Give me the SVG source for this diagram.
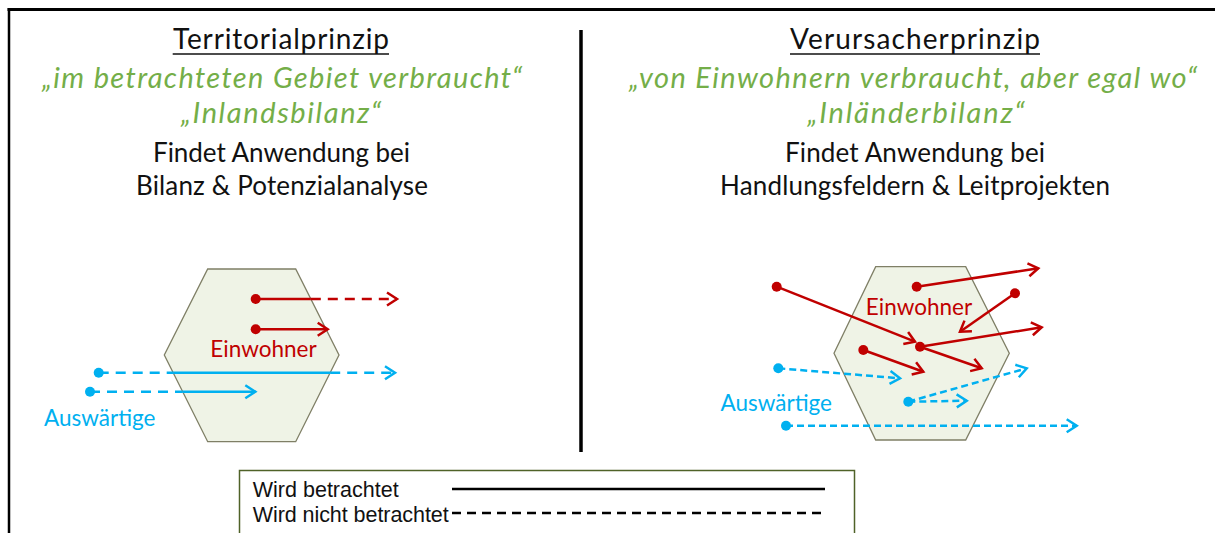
<svg xmlns="http://www.w3.org/2000/svg" width="1215" height="533" viewBox="0 0 1215 533">
<style>
.t{font-family:Lato,"Liberation Sans",sans-serif;font-size:26px;fill:#111;text-anchor:middle}
.h{font-family:Lato,"Liberation Sans",sans-serif;font-size:28px;fill:#111;text-anchor:middle}
.g{font-family:Lato,"Liberation Sans",sans-serif;font-size:29px;font-style:italic;fill:#74ae48;text-anchor:middle}
.lbl{font-family:Lato,"Liberation Sans",sans-serif;font-size:22.5px;text-anchor:middle}
.red{stroke:#c00000;fill:none;stroke-width:2.5}
.blue{stroke:#00b0f0;fill:none;stroke-width:2.5}
.dl{stroke-dasharray:10 7}
.ds{stroke-dasharray:7 4}
.hex{fill:#eff3e6;stroke:#7f7f66;stroke-width:1.3}
.leg{font-family:"Liberation Sans",Arial,sans-serif;font-size:21.5px;fill:#111}
</style>
<defs>
<marker id="ar" markerUnits="userSpaceOnUse" markerWidth="14" markerHeight="16" refX="10" refY="7" orient="auto" overflow="visible"><path d="M0,0.5 L10,7 L0,13.5" fill="none" stroke="#c00000" stroke-width="2.5"/></marker>
<marker id="ab" markerUnits="userSpaceOnUse" markerWidth="14" markerHeight="16" refX="10" refY="7" orient="auto" overflow="visible"><path d="M0,0.5 L10,7 L0,13.5" fill="none" stroke="#00b0f0" stroke-width="2.5"/></marker>
<marker id="dr" markerUnits="userSpaceOnUse" markerWidth="12" markerHeight="12" refX="6" refY="6" overflow="visible"><circle cx="6" cy="6" r="5" fill="#c00000"/></marker>
<marker id="db" markerUnits="userSpaceOnUse" markerWidth="12" markerHeight="12" refX="6" refY="6" overflow="visible"><circle cx="6" cy="6" r="5" fill="#00b0f0"/></marker>
</defs>
<rect width="1215" height="533" fill="#fff"/>
<g id="frame" stroke="#000" fill="none">
<line x1="7.5" y1="9.5" x2="1215" y2="9.5" stroke-width="3"/>
<line x1="9" y1="8" x2="9" y2="533" stroke-width="2.5"/>
<line x1="581" y1="30" x2="581" y2="452" stroke-width="3.5"/>
</g>
<g id="left-header">
<text class="h" x="281" y="48.5" textLength="216">Territorialprinzip</text>
<line x1="172.7" y1="54" x2="389" y2="54" stroke="#111" stroke-width="1.6"/>
<text class="g" x="282" y="88" textLength="480">„im betrachteten Gebiet verbraucht“</text>
<text class="g" x="281" y="123" textLength="200">„Inlandsbilanz“</text>
<text class="t" x="281.5" y="162" textLength="257">Findet Anwendung bei</text>
<text class="t" x="282" y="194.5" textLength="292">Bilanz &amp; Potenzialanalyse</text>
</g>
<g id="right-header">
<text class="h" x="915" y="48.5" textLength="250">Verursacherprinzip</text>
<line x1="790" y1="54" x2="1040" y2="54" stroke="#111" stroke-width="1.6"/>
<text class="g" x="913" y="88" textLength="568">„von Einwohnern verbraucht, aber egal wo“</text>
<text class="g" x="916" y="123" textLength="217">„Inländerbilanz“</text>
<text class="t" x="915" y="162" textLength="260">Findet Anwendung bei</text>
<text class="t" x="915" y="194.5" textLength="390">Handlungsfeldern &amp; Leitprojekten</text>
</g>
<g id="hex-left"><polygon class="hex" points="207.7,269 295.7,269 339,355 295.7,441.7 207.7,441.7 164.3,355"/></g>
<g id="hex-right"><polygon class="hex" points="875.7,266.7 965.7,266.7 1009.3,353.3 965.7,440 875.7,440 834,353.3"/></g>
<g id="labels">
<text class="lbl" x="263.5" y="357" fill="#c00000">Einwohner</text>
<text class="lbl" x="99.7" y="425.5" fill="#00b0f0">Auswärtige</text>
<text class="lbl" x="919" y="315" fill="#c00000">Einwohner</text>
<text class="lbl" x="776.3" y="411" fill="#00b0f0">Auswärtige</text>
</g>
<g id="connectors">
<line class="red" x1="255.7" y1="299" x2="310.8" y2="299" marker-start="url(#dr)"/>
<line class="red dl" x1="310.8" y1="299" x2="397" y2="299" marker-end="url(#ar)"/>
<line class="red" x1="255.7" y1="329.3" x2="327.7" y2="329.3" marker-start="url(#dr)" marker-end="url(#ar)"/>
<line class="blue dl" x1="98.7" y1="372.7" x2="173.2" y2="372.7" marker-start="url(#db)"/>
<line class="blue" x1="173.2" y1="372.7" x2="330.2" y2="372.7"/>
<line class="blue dl" x1="330.2" y1="372.7" x2="395" y2="372.7" marker-end="url(#ab)"/>
<line class="blue dl" x1="90" y1="391.7" x2="182.7" y2="391.7" marker-start="url(#db)"/>
<line class="blue" x1="182.7" y1="391.7" x2="255.3" y2="391.7" marker-end="url(#ab)"/>
<line class="red" x1="776.7" y1="286.7" x2="915" y2="341.7" marker-start="url(#dr)" marker-end="url(#ar)"/>
<line class="red" x1="916.7" y1="286.7" x2="1038.3" y2="268.3" marker-start="url(#dr)" marker-end="url(#ar)"/>
<line class="red" x1="1015" y1="293.3" x2="960" y2="331.7" marker-start="url(#dr)" marker-end="url(#ar)"/>
<line class="red" x1="920" y1="346.7" x2="1041.7" y2="327.3" marker-start="url(#dr)" marker-end="url(#ar)"/>
<line class="red" x1="920" y1="346.7" x2="981.7" y2="368.3" marker-end="url(#ar)"/>
<line class="red" x1="863.3" y1="350" x2="923.3" y2="371.7" marker-start="url(#dr)" marker-end="url(#ar)"/>
<line class="blue ds" x1="778.3" y1="368.3" x2="900" y2="378.3" marker-start="url(#db)" marker-end="url(#ab)"/>
<line class="blue ds" x1="908.3" y1="401.7" x2="1026.7" y2="368.3" marker-start="url(#db)" marker-end="url(#ab)"/>
<line class="blue ds" x1="908.3" y1="401.7" x2="966.7" y2="400.7" marker-end="url(#ab)"/>
<line class="blue ds" x1="786" y1="425.7" x2="1076.7" y2="425.7" marker-start="url(#db)" marker-end="url(#ab)"/>
</g>
<g id="legend">
<rect x="239.5" y="470.5" width="615" height="80" fill="#fff" stroke="#4f6228" stroke-width="1.5"/>
<text class="leg" x="252.7" y="496.7" textLength="146">Wird betrachtet</text>
<text class="leg" x="252.7" y="521.7" textLength="196">Wird nicht betrachtet</text>
<line x1="452" y1="489" x2="825" y2="489" stroke="#000" stroke-width="2.5"/>
<line x1="452" y1="513" x2="825" y2="513" stroke="#000" stroke-width="2.5" stroke-dasharray="9 6"/>
</g>
</svg>
